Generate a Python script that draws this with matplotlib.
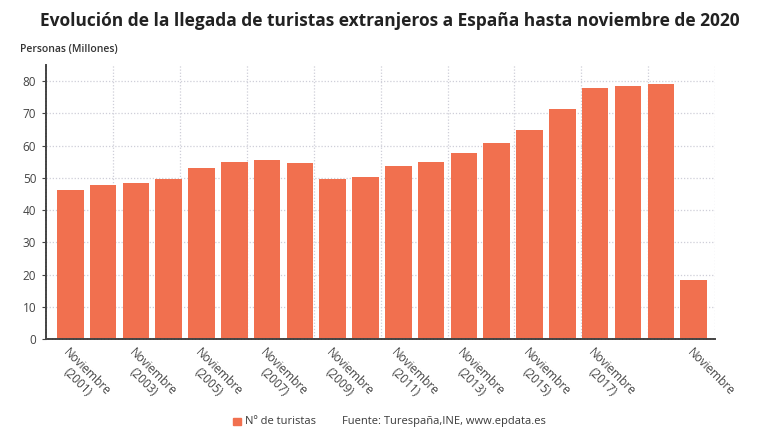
import numpy as np
import matplotlib
matplotlib.use("Agg")
import matplotlib.pyplot as plt

plt.rcParams['font.family'] = ['Open Sans', 'DejaVu Sans']

# Llegada de turistas (enero-noviembre), millones
years = list(range(2001, 2021))
tourists = [46.4, 47.9, 48.3, 49.6, 53.0, 55.0, 55.7, 54.5, 49.6, 50.2,
            53.7, 55.0, 57.8, 60.7, 64.8, 71.4, 77.9, 78.6, 79.3, 18.4]
label_idx = [0, 2, 4, 6, 8, 10, 12, 14, 16, 19]
tick_labels = ["Noviembre\n(2001)", "Noviembre\n(2003)", "Noviembre\n(2005)",
               "Noviembre\n(2007)", "Noviembre\n(2009)", "Noviembre\n(2011)",
               "Noviembre\n(2013)", "Noviembre\n(2015)", "Noviembre\n(2017)",
               "Noviembre"]
yticks = [0, 10, 20, 30, 40, 50, 60, 70, 80]

bar_color = '#F1704F'
text_color = '#3a3a3a'

fig = plt.figure(figsize=(7.8, 4.4), dpi=100)
ax = fig.add_axes([0.059, 0.229, 0.858, 0.623])

x = np.arange(len(years))
ax.bar(x, tourists, width=0.81, color=bar_color, zorder=3)

xmin, xmax = -0.74, 19.66
ax.set_xlim(xmin, xmax)
ax.set_ylim(0, 85)

# vertical grid: 10 equal divisions of the axis
ax.set_xticks(np.linspace(xmin, xmax, 11)[1:], minor=True)
ax.grid(True, which='minor', axis='x', color='#cfcfd8', linestyle=(0, (1, 1.5)), lw=0.9, zorder=0)
ax.set_yticks(yticks)
ax.grid(True, which='major', axis='y', color='#cfcfd8', linestyle=(0, (1, 1.5)), lw=0.9, zorder=0)
ax.tick_params(axis='x', which='minor', length=0)

ax.set_xticks(label_idx)
ax.set_xticklabels(tick_labels, rotation=-45, ha='left', va='top',
                   rotation_mode='anchor', fontsize=8.5, color='#444444',
                   linespacing=1.1, multialignment='center')
ax.tick_params(axis='x', which='major', length=0, pad=5)
ax.tick_params(axis='y', length=3, color='#444444', labelsize=8.5,
               labelcolor='#444444', pad=4)

for side in ['top', 'right']:
    ax.spines[side].set_visible(False)
for side in ['left', 'bottom']:
    ax.spines[side].set_color('#444444')
    ax.spines[side].set_linestyle((0, (1, 0.8)))
    ax.spines[side].set_linewidth(1.4)
    ax.spines[side].set_zorder(4)

fig.text(0.5, 0.953, "Evolución de la llegada de turistas extranjeros a España hasta noviembre de 2020",
         ha='center', va='center', fontsize=12.5, fontweight='bold', color='#222222')
fig.text(0.026, 0.888, "Personas (Millones)", ha='left', va='center',
         fontsize=7.5, fontweight='semibold', color='#333333')

# leyenda inferior
fig.patches.append(plt.Rectangle((233 / 780, 1 - 425 / 440), 8 / 780, 7 / 440,
                                 transform=fig.transFigure, color=bar_color))
fig.text(245 / 780, 1 - 421 / 440, "Nº de turistas", ha='left', va='center',
         fontsize=8, color=text_color)
fig.text(342 / 780, 1 - 421 / 440, "Fuente: Turespaña,INE, www.epdata.es", ha='left',
         va='center', fontsize=8, color=text_color)

fig.savefig("out.png", dpi=100)
